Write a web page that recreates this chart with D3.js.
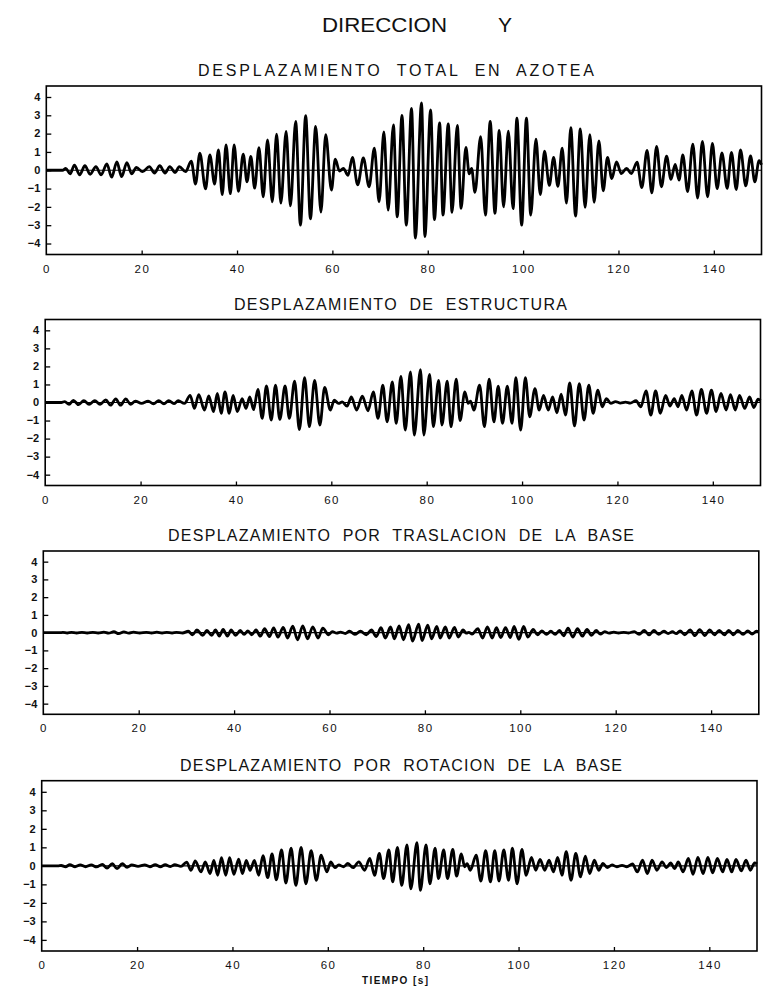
<!DOCTYPE html>
<html>
<head>
<meta charset="utf-8">
<script src="https://cdn.jsdelivr.net/npm/d3@7"></script>
<style>
  body { margin: 0; background: #fff; }
  svg { display: block; }
  .titulo { white-space: pre; }
</style>
</head>
<body>
<svg id="chart" width="773" height="995"></svg>
<script>
// Time of each successive peak / trough of the response (s)
const tiempos = [
  0.0, 3.4, 4.1, 5.0, 5.9, 7.0, 8.1, 9.2, 10.4, 11.5,
  12.7, 13.7, 14.8, 15.8, 16.9, 17.9, 18.9, 20.2, 21.6, 22.7,
  23.8, 24.9, 25.9, 27.0, 27.9, 29.2, 30.4, 31.3, 32.2, 33.4,
  34.3, 35.3, 36.1, 36.9, 37.7, 38.6, 39.4, 40.3, 41.3, 42.1,
  42.9, 43.7, 44.6, 45.5, 46.4, 47.4, 48.3, 49.2, 50.3, 51.2,
  52.3, 53.3, 54.4, 55.4, 56.5, 57.6, 58.6, 59.8, 60.6, 61.5,
  62.3, 63.3, 64.2, 65.3, 66.5, 67.7, 68.8, 69.8, 70.8, 71.7,
  72.8, 73.6, 74.6, 75.5, 76.6, 77.4, 78.7, 79.4, 80.6, 81.4,
  82.5, 83.2, 84.3, 85.1, 86.2, 87.0, 88.0, 88.7, 89.2, 89.9,
  91.1, 92.1, 93.1, 94.1, 95.0, 95.9, 96.9, 97.9, 98.7, 99.7,
  100.7, 101.6, 102.7, 103.6, 104.5, 105.5, 106.4, 107.3, 108.2, 109.1,
  110.0, 111.0, 112.0, 113.0, 114.0, 114.9, 115.9, 116.8, 117.7, 118.6,
  119.6, 120.6, 121.7, 122.7, 123.9, 124.9, 126.0, 127.0, 128.0, 129.0,
  130.1, 131.0, 131.9, 132.7, 133.5, 134.5, 135.6, 136.6, 137.6, 138.7,
  139.7, 140.7, 141.7, 142.8, 143.7, 144.7, 145.6, 146.7, 147.7, 148.6,
  149.5, 150.0
];

// Displacement at each of those instants
const azotea = [
  0, 0, 0.1, -0.2, 0.28, -0.25, 0.25, -0.22, 0.2, -0.25,
  0.35, -0.38, 0.45, -0.35, 0.42, -0.2, 0.15, -0.08, 0.2, -0.15,
  0.25, -0.15, 0.2, -0.12, 0.2, -0.08, 0.5, -0.75, 0.93, -1.02,
  0.84, -0.75, 1.11, -1.33, 1.39, -1.28, 1.39, -1.15, 0.88, -0.63,
  0.75, -0.98, 1.24, -1.45, 1.66, -1.72, 1.97, -1.8, 2.12, -1.95,
  2.67, -3.0, 2.98, -2.65, 2.39, -2.28, 1.94, -1.08, 0.6, -0.05,
  0.1, -0.28, 0.7, -0.8, 0.67, -0.9, 1.2, -1.72, 2.1, -2.18,
  2.48, -2.54, 3.0, -3.0, 3.38, -3.7, 3.68, -3.62, 3.3, -2.7,
  2.58, -2.45, 2.53, -2.3, 2.45, -2.08, 1.25, -0.2, 0.1, -1.2,
  1.84, -2.45, 2.67, -2.35, 2.18, -2.0, 2.13, -2.1, 2.85, -3.0,
  2.85, -2.45, 1.7, -1.33, 1.04, -0.83, 0.7, -0.88, 1.2, -1.8,
  2.32, -2.5, 2.26, -2.03, 1.94, -1.75, 1.6, -1.12, 0.7, -0.45,
  0.45, -0.18, 0.1, -0.18, 0.44, -0.95, 1.08, -1.24, 1.3, -0.9,
  0.77, -0.5, 0.32, -0.54, 0.84, -1.16, 1.43, -1.52, 1.57, -1.45,
  1.46, -1.0, 0.95, -0.99, 0.97, -1.05, 1.11, -0.85, 0.79, -0.63,
  0.53, 0.3
];

const estructura = [
  0, 0, 0.05, -0.1, 0.12, -0.12, 0.1, -0.1, 0.1, -0.1,
  0.15, -0.15, 0.2, -0.15, 0.2, -0.1, 0.08, -0.05, 0.08, -0.08,
  0.1, -0.08, 0.1, -0.06, 0.1, -0.05, 0.4, -0.33, 0.44, -0.42,
  0.37, -0.51, 0.5, -0.6, 0.59, -0.6, 0.4, -0.5, 0.22, -0.33,
  0.31, -0.4, 0.72, -0.88, 0.92, -0.97, 0.96, -0.94, 0.92, -0.88,
  1.18, -1.5, 1.38, -1.34, 1.23, -1.25, 0.83, -0.42, 0.13, -0.05,
  0.03, -0.2, 0.31, -0.42, 0.35, -0.46, 0.59, -0.88, 0.96, -1.07,
  1.14, -1.16, 1.45, -1.53, 1.69, -1.8, 1.82, -1.8, 1.56, -1.34,
  1.23, -1.25, 1.18, -1.34, 1.29, -1.0, 0.59, -0.05, 0.08, -0.42,
  0.96, -1.34, 1.29, -1.07, 0.9, -1.16, 0.9, -1.16, 1.38, -1.53,
  1.38, -0.79, 0.77, -0.42, 0.4, -0.42, 0.31, -0.57, 0.46, -0.7,
  1.08, -1.3, 1.05, -0.97, 0.96, -0.6, 0.68, -0.24, 0.22, -0.05,
  0.05, -0.03, 0.02, -0.03, 0.1, -0.24, 0.64, -0.7, 0.64, -0.6,
  0.4, -0.2, 0.22, -0.24, 0.4, -0.42, 0.64, -0.7, 0.72, -0.6,
  0.68, -0.5, 0.5, -0.42, 0.44, -0.42, 0.4, -0.33, 0.31, -0.28,
  0.18, 0.1
];

const traslacion = [
  0, 0, 0.01, -0.02, 0.02, -0.02, 0.02, -0.02, 0.02, -0.02,
  0.03, -0.03, 0.05, -0.06, 0.04, -0.03, 0.03, -0.02, 0.02, -0.02,
  0.03, -0.02, 0.02, -0.02, 0.02, -0.02, 0.08, -0.12, 0.15, -0.15,
  0.12, -0.15, 0.15, -0.2, 0.18, -0.2, 0.16, -0.15, 0.12, -0.1,
  0.1, -0.12, 0.15, -0.2, 0.22, -0.22, 0.27, -0.25, 0.3, -0.3,
  0.36, -0.4, 0.38, -0.35, 0.33, -0.3, 0.25, -0.12, 0.06, -0.03,
  0.03, -0.05, 0.08, -0.1, 0.08, -0.12, 0.15, -0.22, 0.28, -0.3,
  0.32, -0.35, 0.38, -0.4, 0.45, -0.48, 0.48, -0.45, 0.42, -0.35,
  0.35, -0.3, 0.32, -0.3, 0.3, -0.25, 0.15, -0.03, 0.02, -0.08,
  0.22, -0.3, 0.33, -0.3, 0.28, -0.28, 0.28, -0.28, 0.35, -0.38,
  0.35, -0.25, 0.18, -0.12, 0.1, -0.1, 0.08, -0.1, 0.12, -0.18,
  0.25, -0.25, 0.22, -0.2, 0.18, -0.15, 0.12, -0.08, 0.06, -0.03,
  0.03, -0.02, 0.02, -0.02, 0.06, -0.1, 0.12, -0.13, 0.12, -0.1,
  0.08, -0.05, 0.05, -0.06, 0.1, -0.12, 0.16, -0.17, 0.17, -0.16,
  0.16, -0.12, 0.12, -0.12, 0.12, -0.12, 0.13, -0.1, 0.1, -0.08,
  0.08, 0.05
];

const rotacion = [
  0, 0, 0.02, -0.05, 0.06, -0.05, 0.05, -0.05, 0.05, -0.06,
  0.08, -0.12, 0.12, -0.15, 0.12, -0.08, 0.05, -0.03, 0.05, -0.05,
  0.06, -0.05, 0.06, -0.04, 0.06, -0.03, 0.2, -0.24, 0.27, -0.33,
  0.22, -0.42, 0.3, -0.51, 0.44, -0.51, 0.44, -0.46, 0.36, -0.42,
  0.3, -0.24, 0.3, -0.51, 0.55, -0.64, 0.64, -0.75, 0.86, -0.93,
  0.95, -1.06, 1.0, -0.97, 0.82, -0.78, 0.58, -0.33, 0.22, -0.1,
  0.05, -0.05, 0.13, -0.1, 0.22, -0.24, 0.4, -0.51, 0.67, -0.69,
  0.86, -0.87, 1.0, -1.06, 1.13, -1.24, 1.26, -1.33, 1.13, -0.97,
  0.95, -0.69, 0.86, -0.69, 0.89, -0.56, 0.64, -0.05, 0.12, -0.24,
  0.58, -0.82, 0.82, -0.87, 0.82, -0.82, 0.86, -0.78, 0.95, -0.97,
  0.89, -0.51, 0.46, -0.24, 0.35, -0.24, 0.31, -0.33, 0.46, -0.51,
  0.77, -0.78, 0.67, -0.6, 0.53, -0.42, 0.31, -0.24, 0.13, -0.09,
  0.05, -0.05, 0.03, -0.05, 0.1, -0.33, 0.31, -0.42, 0.31, -0.24,
  0.22, -0.1, 0.16, -0.15, 0.22, -0.33, 0.4, -0.46, 0.46, -0.42,
  0.46, -0.38, 0.4, -0.33, 0.35, -0.33, 0.35, -0.27, 0.31, -0.24,
  0.16, 0.1
];

const tituloGeneral = ["DIRECCION", "Y"];
const titulos = [
  "DESPLAZAMIENTO  TOTAL  EN  AZOTEA",
  "DESPLAZAMIENTO  DE  ESTRUCTURA",
  "DESPLAZAMIENTO  POR  TRASLACION  DE  LA  BASE",
  "DESPLAZAMIENTO  POR  ROTACION  DE  LA  BASE"
];
const etiquetaX = "TIEMPO [s]";
const xTicks = [0, 20, 40, 60, 80, 100, 120, 140];
const yTicks = [-4, -3, -2, -1, 0, 1, 2, 3, 4];
const xDomain = [0, 150];
const yDomain = [-4.6, 4.6];

// Frame placement of each panel on the page
const panels = [
  { serie: azotea,     titulo: titulos[0], left: 46.3, right: 761.5, top: 86,    bottom: 254.5, tx0: 198, tx1: 594 },
  { serie: estructura, titulo: titulos[1], left: 45.2, right: 760.5, top: 319.5, bottom: 485.5, tx0: 234, tx1: 567 },
  { serie: traslacion, titulo: titulos[2], left: 43.3, right: 758.8, top: 551,   bottom: 714.3, tx0: 168, tx1: 634 },
  { serie: rotacion,   titulo: titulos[3], left: 41.7, right: 757.0, top: 780.7, bottom: 951,   tx0: 180, tx1: 622 }
];

const svg = d3.select("#chart");
svg.append("rect").attr("width", 773).attr("height", 995).attr("fill", "#fff");

const font = "'Liberation Sans', Arial, sans-serif";

// Page heading
const head = svg.append("g")
  .attr("font-family", font).attr("font-size", 21).attr("fill", "#111");
head.append("text").attr("x", 322).attr("y", 32)
  .attr("textLength", 125).attr("lengthAdjust", "spacingAndGlyphs")
  .text(tituloGeneral[0]);
head.append("text").attr("x", 505).attr("y", 32).attr("text-anchor", "middle")
  .text(tituloGeneral[1]);

panels.forEach(p => {
  const x = d3.scaleLinear().domain(xDomain).range([p.left, p.right]);
  const y = d3.scaleLinear().domain(yDomain).range([p.bottom, p.top]);
  const g = svg.append("g");

  // panel title
  g.append("text")
    .attr("class", "titulo")
    .attr("x", p.tx0).attr("y", p.top - 10)
    .attr("font-family", font).attr("font-size", 16).attr("fill", "#111")
    .attr("textLength", p.tx1 - p.tx0).attr("lengthAdjust", "spacing")
    .text(p.titulo);

  // zero reference line
  g.append("line")
    .attr("x1", x(xDomain[0])).attr("x2", x(xDomain[1]))
    .attr("y1", y(0)).attr("y2", y(0))
    .attr("stroke", "#000").attr("stroke-width", 1.2);

  // response history
  const linea = d3.line()
    .x((d, i) => x(tiempos[i]))
    .y(d => y(d))
    .curve(d3.curveMonotoneX);
  g.append("path")
    .datum(p.serie)
    .attr("d", linea)
    .attr("fill", "none")
    .attr("stroke", "#000")
    .attr("stroke-width", 2.8)
    .attr("stroke-linejoin", "round");

  // frame
  g.append("rect")
    .attr("x", p.left).attr("y", p.top)
    .attr("width", p.right - p.left).attr("height", p.bottom - p.top)
    .attr("fill", "none").attr("stroke", "#000").attr("stroke-width", 1.6);

  // y axis: inward ticks
  const yAxis = d3.axisRight(y).tickValues(yTicks).tickSize(5).tickPadding(0)
    .tickFormat(() => "");
  g.append("g").attr("transform", `translate(${p.left},0)`).call(yAxis)
    .call(a => a.select(".domain").remove())
    .call(a => a.selectAll("line").attr("stroke", "#000").attr("stroke-width", 1.3));
  g.append("g")
    .attr("font-family", font).attr("font-size", 11).attr("font-weight", "bold")
    .attr("fill", "#111").attr("text-anchor", "end")
    .selectAll("text").data(yTicks).join("text")
    .attr("x", p.left - 6).attr("y", d => y(d)).attr("dy", "0.35em")
    .text(d => d3.format("d")(d));

  // x axis: inward ticks
  const xAxis = d3.axisTop(x).tickValues(xTicks.filter(d => d > 0)).tickSize(4)
    .tickFormat(() => "");
  g.append("g").attr("transform", `translate(0,${p.bottom})`).call(xAxis)
    .call(a => a.select(".domain").remove())
    .call(a => a.selectAll("line").attr("stroke", "#000").attr("stroke-width", 1.3));
  g.append("g")
    .attr("font-family", font).attr("font-size", 11.5)
    .attr("fill", "#111").attr("text-anchor", "middle").attr("letter-spacing", 1.5)
    .selectAll("text").data(xTicks).join("text")
    .attr("x", d => x(d) + 0.75).attr("y", p.bottom + 18)
    .text(d => d);
});

// time axis caption below the last panel
svg.append("text")
  .attr("x", 362).attr("y", 984)
  .attr("font-family", font).attr("font-size", 10).attr("font-weight", "bold")
  .attr("fill", "#111")
  .attr("textLength", 66).attr("lengthAdjust", "spacing")
  .text(etiquetaX);
</script>
</body>
</html>
